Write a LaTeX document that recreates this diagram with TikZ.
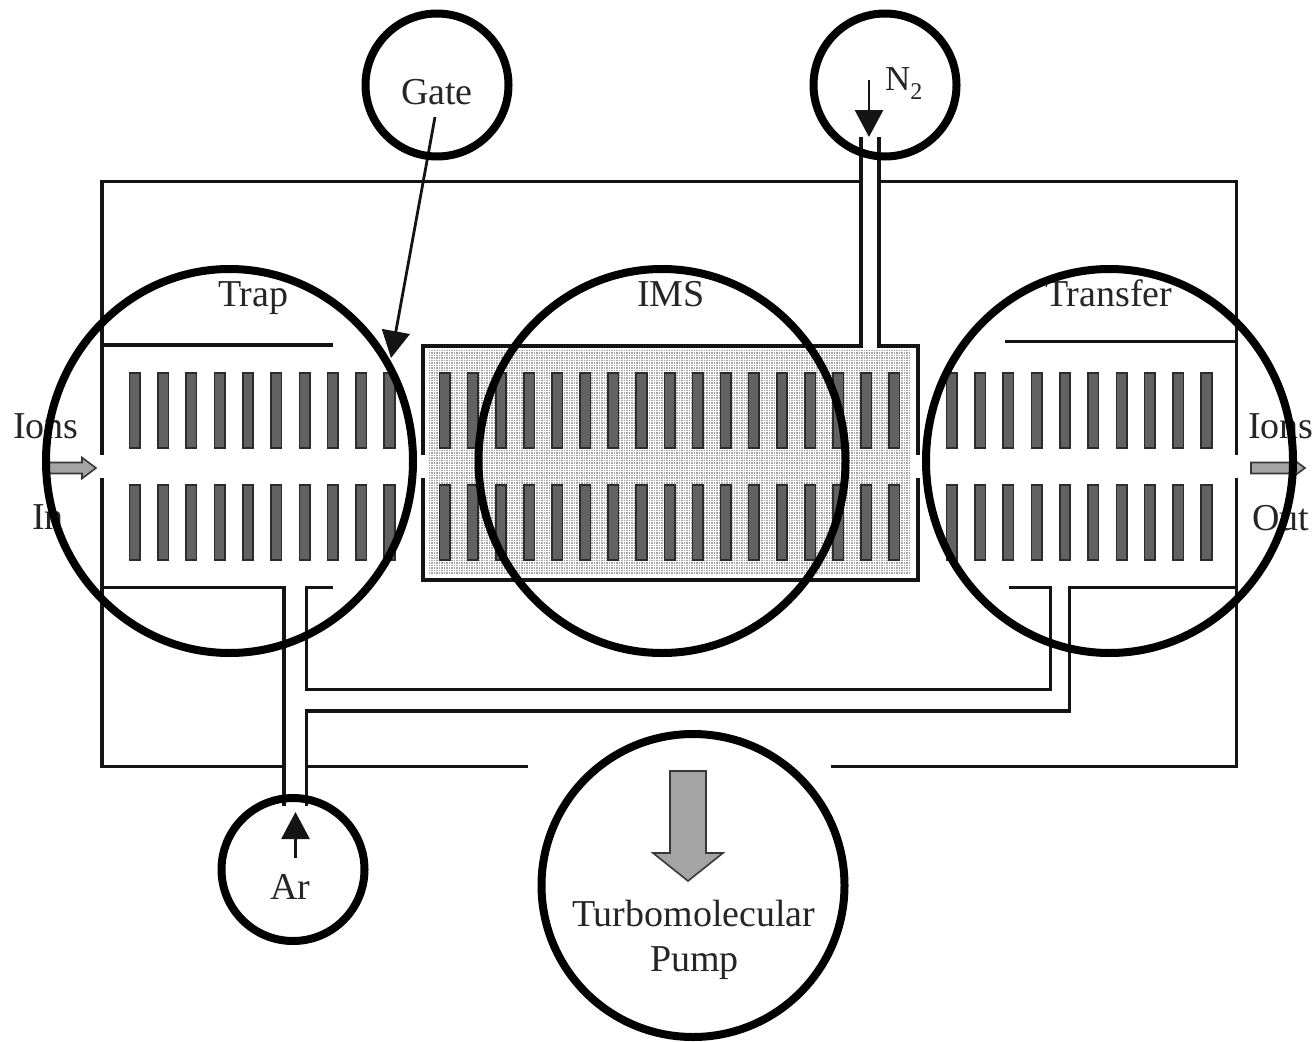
\documentclass[tikz,border=0pt]{standalone}
\usepackage{fontspec}
\setmainfont{Liberation Serif}
\usetikzlibrary{arrows.meta}
\definecolor{ink}{HTML}{141414}
\definecolor{txt}{HTML}{262626}
\definecolor{bar}{HTML}{626262}
\definecolor{stip}{HTML}{A6A6A6}
\definecolor{flow}{HTML}{A4A4A4}
\tikzset{
  wall/.style={draw=ink,line width=3.4pt,line cap=butt,line join=miter},
  imswall/.style={draw=ink,line width=4pt,line cap=butt,line join=miter},
  electrode/.style={draw=ink!90,fill=bar,line width=1.6pt},
  ring/.style={draw=black,line width=8pt},
  lab/.style={anchor=base west,inner sep=0pt,outer sep=0pt,text=txt,font=\fontsize{38}{40}\selectfont},
  pointer/.style={draw=ink,line width=2.8pt,-{Triangle[length=27pt,width=28pt]}},
  flowarrow/.style={draw=ink!85,fill=flow,line width=1.6pt,line join=miter}
}
\begin{document}
\begin{tikzpicture}[x=1pt,y=-1pt]
\useasboundingbox (0,0) rectangle (1313,1041);
\fill[white] (0,0) rectangle (1313,1041);

% stippled IMS cell
\fill[stip] (428,349) rectangle (911,574);
\foreach \i in {0,...,193}{\draw[white,line width=.9pt] ({428+2.5*\i},349) -- ({428+2.5*\i},574);}
\foreach \i in {0,...,90}{\draw[white,line width=.9pt] (428,{349+2.5*\i}) -- (911,{349+2.5*\i});}

% outer chamber
\draw[wall] (528,766.5) -- (306.5,766.5);
\draw[wall] (284,766.5) -- (102,766.5) -- (102,478);
\draw[wall] (102,455) -- (102,181.5) -- (861,181.5);
\draw[wall] (878.5,181.5) -- (1236.5,181.5) -- (1236.5,455);
\draw[wall] (1236.5,478) -- (1236.5,766.5) -- (831,766.5);

% trap cell
\draw[wall] (102,345) -- (333,345);
\draw[wall] (102,587.5) -- (284,587.5) -- (284,806);
\draw[wall] (333,587.5) -- (306.5,587.5) -- (306.5,689.5) -- (1050.5,689.5) -- (1050.5,587.5) -- (1009,587.5);
\draw[wall] (306.5,806) -- (306.5,711) -- (1069.5,711) -- (1069.5,587.5) -- (1238,587.5);

% transfer cell
\draw[wall] (1005,341.5) -- (1236.5,341.5);

% IMS cell walls and N2 tube
\draw[imswall] (423,455) -- (423,346) -- (861,346) -- (861,137);
\draw[imswall] (878.5,137) -- (878.5,346) -- (917.5,346) -- (917.5,455);
\draw[imswall] (423,478) -- (423,579.5) -- (917.5,579.5) -- (917.5,478);

% electrodes
\foreach \i in {0,...,9}{
  \draw[electrode] ({129.5+28.3*\i},373) rectangle +(10.5,75);
  \draw[electrode] ({129.5+28.3*\i},485) rectangle +(10.5,75);
  \draw[electrode] ({946.5+28.3*\i},373) rectangle +(10.5,75);
  \draw[electrode] ({946.5+28.3*\i},485) rectangle +(10.5,75);
}
\foreach \i in {0,...,16}{
  \draw[electrode] ({439.5+28.1*\i},373) rectangle +(10.5,75);
  \draw[electrode] ({439.5+28.1*\i},485) rectangle +(10.5,75);
}

% flow arrows
\draw[flowarrow] (46,462.5) -- (82,462.5) -- (82,457.5) -- (96,468) -- (82,478.5) -- (82,473.5) -- (46,473.5) -- cycle;
\draw[flowarrow] (1251,462.5) -- (1292,462.5) -- (1292,458.5) -- (1305,468) -- (1292,477.5) -- (1292,473.5) -- (1251,473.5) -- cycle;
\draw[flowarrow] (670,771) -- (706,771) -- (706,853) -- (723,853) -- (688,881) -- (653,853) -- (670,853) -- cycle;

% labels
\node[lab] (gate) at (401,104) {Gate};
\node[lab,font=\fontsize{35}{38}\selectfont] (ntwo) at (885,90) {N\raisebox{-9pt}{\fontsize{24}{26}\selectfont 2}};
\node[lab] (trap) at (218,306) {Trap};
\node[lab] (ims) at (637,306) {IMS};
\node[lab] (transfer) at (1045,306) {Transfer};
\node[lab] (ionsin) at (13,438) {Ions};
\node[lab] (in) at (32,529) {In};
\node[lab] (ionsout) at (1248,438) {Ions};
\node[lab] (out) at (1252,530) {Out};
\node[lab] (ar) at (270,899) {Ar};
\node[lab] (turbo) at (572,926) {Turbomolecular};
\node[lab] (pump) at (650,971) {Pump};

% pointers
\coordinate (gatefrom) at (435,117);
\coordinate (gatetip) at (391,358);
\coordinate (nfrom) at (869,80);
\coordinate (ntip) at (869,137);
\coordinate (arfrom) at (295.5,858);
\coordinate (artip) at (295.5,812);
\draw[pointer] (gatefrom) -- (gatetip);
\draw[pointer] (nfrom) -- (ntip);
\draw[pointer] (arfrom) -- (artip);

% rings
\draw[ring] (437,85) circle[radius=71.5];
\draw[ring] (885,85) circle[radius=71.5];
\draw[ring] (293,869.5) circle[radius=71.5];
\draw[ring] (693,885.5) circle[radius=151.5];
\draw[ring] (229.5,461) ellipse[x radius=183.5,y radius=192];
\draw[ring] (662,461) ellipse[x radius=183.5,y radius=192];
\draw[ring] (1109.5,461) ellipse[x radius=183.5,y radius=192];
\end{tikzpicture}
\end{document}
